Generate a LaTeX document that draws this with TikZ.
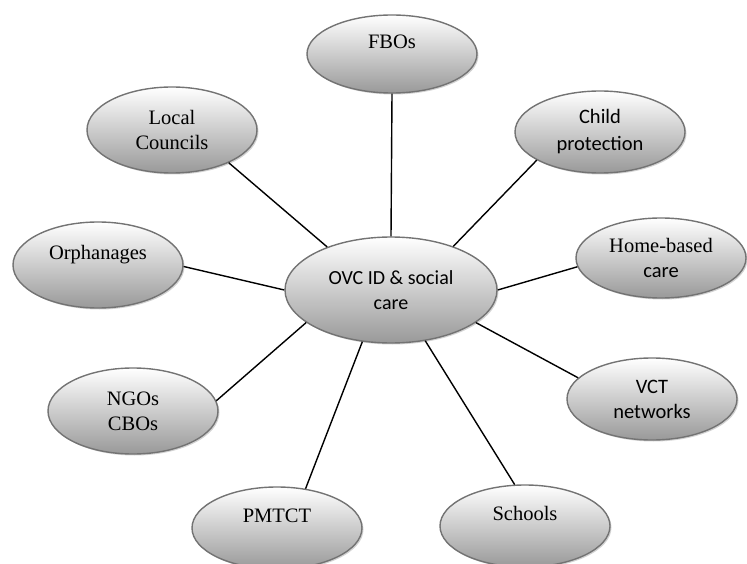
\documentclass[tikz,border=0pt]{standalone}
\usepackage{fontspec}
\setmainfont{Liberation Serif}
\newfontfamily\calibri{Carlito}
\usetikzlibrary{shapes.geometric,shadows}
\tikzset{
  bubble/.style={ellipse, draw=black!55, line width=1.4pt, top color=white, bottom color=black!40,
    minimum width=170pt, minimum height=82pt, inner sep=0pt, align=center,
    font=\fontsize{20.5}{25}\selectfont,
    drop shadow={shadow xshift=1.5pt, shadow yshift=-1.5pt, fill=black!35, opacity=.5}},
  spoke/.style={line width=1.4pt}
}
\begin{document}
\begin{tikzpicture}[x=1pt,y=-1pt]
        \useasboundingbox (0,0) rectangle (747,564);
        %% hub
        \node[bubble, minimum width=212pt, minimum height=106pt, font=\calibri\fontsize{20}{25}\selectfont] (hub) at (391,290) {OVC ID \& social\\care};
        %% outer bubbles
        \node[bubble, minimum height=78pt] (fbo) at (392,54) {FBOs\\\mbox{}};
        \node[bubble, minimum height=86pt] (council) at (172,130) {Local\\Councils};
        \node[bubble, font=\calibri\fontsize{20.5}{27}\selectfont] (child) at (600,132) {Child\\protection};
        \node[bubble, minimum height=86pt] (orphan) at (98,265) {Orphanages\\\mbox{}};
        \node[bubble, minimum height=80pt] (home) at (661,258) {Home-based\\{\calibri care}};
        \node[bubble, font=\calibri\fontsize{20.5}{25}\selectfont] (vct) at (652,399) {VCT\\networks};
        \node[bubble, minimum height=86pt] (ngo) at (133,411) {NGOs\\CBOs};
        \node[bubble] (pmtct) at (277,528) {PMTCT\\\mbox{}};
        \node[bubble] (school) at (525,526) {Schools\\\mbox{}};
        %% spokes
        \draw[spoke] (hub.90) -- (fbo.-90);
        \draw[spoke] (hub.146) -- (council.-30);
        \draw[spoke] (hub.35) -- (child.204);
        \draw[spoke] (hub.180) -- (orphan.-1);
        \draw[spoke] (hub.0) -- (home.186);
        \draw[spoke] (hub.-21) -- (vct.164);
        \draw[spoke] (hub.-159) -- (ngo.7);
        \draw[spoke] (hub.-119) -- (pmtct.54);
        \draw[spoke] (hub.-56) -- (school.104);
    \end{tikzpicture}
\end{document}
